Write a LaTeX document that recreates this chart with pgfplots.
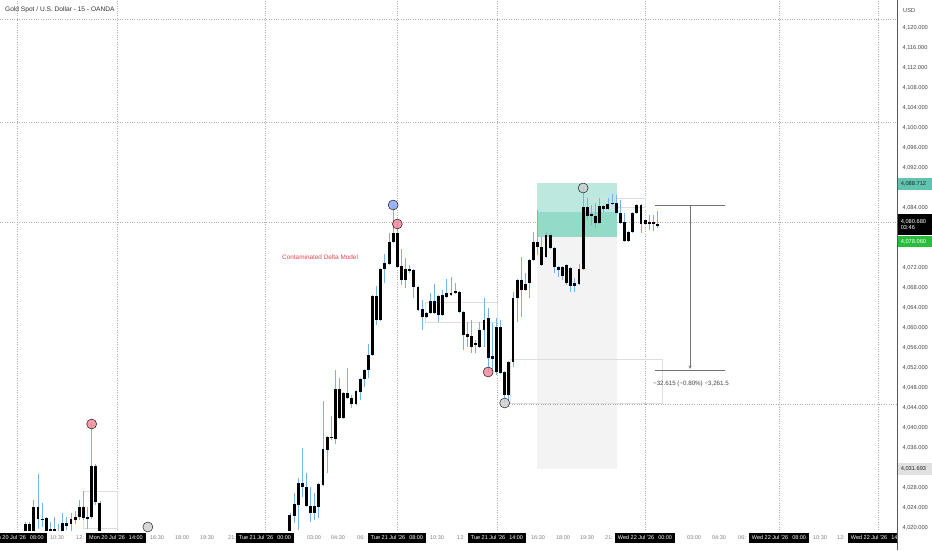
\documentclass[border=0pt]{standalone}
\usepackage{fontspec}
\setmainfont{Liberation Sans}
\usepackage{pgfplots}
\pgfplotsset{compat=1.18}
\usepackage{pgfplotstable}
\usetikzlibrary{arrows.meta}

\definecolor{wick}{RGB}{115,178,235}
\definecolor{gridc}{RGB}{175,175,175}
\definecolor{txt}{RGB}{70,70,70}
\definecolor{tealA}{RGB}{188,232,224}
\definecolor{tealB}{RGB}{148,218,200}
\definecolor{stopz}{RGB}{243,243,243}
\definecolor{boxl}{RGB}{222,222,222}
\definecolor{dotred}{RGB}{240,130,150}
\definecolor{dotblue}{RGB}{135,160,250}
\definecolor{dotgrey}{RGB}{205,205,205}
\definecolor{lbteal}{RGB}{96,196,176}
\definecolor{lbgreen}{RGB}{40,190,60}
\definecolor{lbgrey}{RGB}{225,225,225}
\definecolor{redtxt}{RGB}{230,70,80}

% n = bar index (15 min), bt/bb = body top/bottom, h/l = high/low
\pgfplotstableread{
n bt bb h l
6 4020.9 4017.0 4021.2 4016.5
7 4020.9 4017.0 4021.2 4016.5
8 4024.2 4017.0 4025.6 4016.5
9 4024.2 4021.8 4030.8 4019.9
10 4021.9 4021.7 4025.1 4020.3
11 4022.0 4017.0 4022.2 4016.5
12 4019.8 4017.0 4021.3 4016.5
13 4019.8 4017.0 4022.3 4016.5
14 4019.5 4017.0 4020.9 4016.5
15 4021.0 4017.0 4023.1 4016.5
16 4021.0 4020.4 4022.3 4019.6
17 4021.9 4020.8 4023.0 4019.0
18 4022.3 4021.6 4023.4 4020.8
19 4024.2 4022.2 4025.7 4021.6
20 4024.3 4022.0 4027.5 4021.6
21 4022.2 4021.9 4024.3 4019.9
22 4032.5 4022.2 4040.8 4021.8
23 4032.5 4025.3 4032.8 4024.6
24 4025.1 4017.0 4025.4 4016.5
70 4022.6 4017.0 4023.0 4016.5
71 4024.8 4022.4 4027.0 4021.0
72 4029.0 4024.6 4030.0 4019.6
73 4029.0 4028.2 4036.0 4026.2
74 4028.2 4024.4 4031.0 4024.2
75 4024.4 4023.0 4028.2 4021.2
76 4024.4 4023.0 4027.0 4021.6
77 4028.8 4024.2 4029.0 4022.0
78 4035.8 4028.6 4045.4 4028.4
79 4038.2 4035.6 4038.4 4031.0
80 4038.2 4038.0 4042.4 4037.6
81 4047.8 4037.8 4051.6 4036.8
82 4047.8 4042.0 4050.0 4041.8
83 4047.0 4042.0 4047.2 4041.8
84 4047.0 4046.0 4052.0 4045.8
85 4046.0 4044.8 4046.6 4044.0
86 4047.4 4044.8 4047.6 4044.6
87 4049.8 4047.2 4050.0 4045.6
88 4051.6 4049.8 4051.8 4048.2
89 4054.6 4051.6 4056.8 4050.0
90 4066.4 4054.6 4066.6 4054.4
91 4066.4 4061.6 4068.4 4060.6
92 4071.8 4061.6 4072.0 4061.4
93 4073.0 4071.8 4074.8 4069.0
94 4077.2 4072.8 4079.0 4072.6
95 4079.0 4077.2 4084.6 4077.0
96 4079.0 4072.2 4080.8 4072.0
97 4072.4 4069.6 4075.8 4068.6
98 4071.8 4069.6 4074.0 4068.0
99 4071.8 4071.4 4072.6 4071.0
100 4071.6 4068.2 4071.8 4066.0
101 4068.2 4063.6 4068.4 4063.4
102 4063.8 4062.2 4065.6 4059.6
103 4063.0 4062.2 4063.2 4062.0
104 4065.4 4063.0 4067.0 4062.8
105 4065.4 4063.0 4068.8 4062.8
106 4066.4 4062.6 4066.6 4061.2
107 4066.6 4062.6 4067.6 4062.4
108 4067.0 4066.2 4069.8 4066.0
109 4067.0 4066.6 4070.2 4066.4
110 4067.4 4067.0 4069.0 4066.8
111 4067.2 4063.2 4067.4 4063.0
112 4063.2 4058.6 4063.4 4055.6
113 4058.8 4058.2 4061.2 4056.2
114 4058.4 4056.2 4061.6 4055.0
115 4057.0 4056.6 4057.6 4055.0
116 4059.6 4056.2 4061.2 4056.0
117 4061.6 4059.6 4066.0 4056.2
118 4062.0 4054.0 4064.0 4051.2
119 4054.4 4053.8 4061.0 4051.6
120 4060.2 4051.2 4062.0 4050.6
121 4060.2 4051.0 4061.6 4050.8
122 4051.2 4046.6 4051.4 4045.0
123 4053.2 4046.6 4053.4 4045.2
124 4066.0 4053.2 4067.2 4052.2
125 4069.6 4066.0 4069.8 4061.2
126 4069.6 4067.6 4074.2 4062.2
127 4068.8 4067.6 4071.0 4067.4
128 4073.6 4069.0 4073.8 4066.0
129 4077.2 4073.6 4079.2 4073.4
130 4077.2 4076.2 4083.6 4074.6
131 4076.2 4072.6 4078.2 4072.4
132 4078.6 4074.2 4079.2 4074.0
133 4078.6 4076.0 4079.0 4075.8
134 4076.0 4072.2 4076.2 4071.0
135 4072.2 4071.6 4072.4 4070.2
136 4072.2 4070.4 4072.4 4069.6
137 4072.6 4069.0 4072.8 4068.6
138 4072.0 4068.4 4072.2 4067.2
139 4069.0 4068.4 4070.0 4067.2
140 4071.8 4068.8 4072.8 4068.6
141 4084.2 4071.8 4088.0 4071.6
142 4084.2 4082.4 4086.0 4081.6
143 4082.8 4082.4 4084.6 4080.6
144 4082.4 4081.0 4085.0 4080.0
145 4084.4 4081.0 4086.0 4080.8
146 4084.4 4083.8 4084.6 4083.2
147 4084.8 4083.8 4086.0 4083.6
148 4085.0 4084.8 4086.8 4084.6
149 4085.0 4083.0 4086.6 4082.8
150 4083.0 4081.0 4085.6 4080.8
151 4081.2 4077.4 4083.0 4077.2
152 4079.2 4077.4 4079.4 4077.2
153 4083.0 4079.2 4083.2 4079.0
154 4084.6 4083.0 4084.8 4082.8
155 4084.6 4080.8 4084.8 4079.0
156 4081.6 4080.8 4081.8 4080.6
157 4081.2 4080.8 4082.6 4079.6
158 4081.2 4080.8 4082.6 4079.4
159 4080.8 4080.4 4083.4 4080.0
}\candles

\begin{document}
\begin{tikzpicture}[x=1pt,y=1pt]
\useasboundingbox (0,0) rectangle (932,550);
\fill[white] (0,0) rectangle (932,550);
\begin{axis}[
  at={(0pt,20pt)}, anchor=south west, scale only axis,
  width=897pt, height=530pt,
  xmin=-0.2, xmax=216.99, ymin=4019.6, ymax=4125.6,
  axis y line*=right, axis x line*=bottom,
  x axis line style={draw=none},
  y axis line style={draw=black!65, line width=0.6pt, -},
  major tick length=0pt,
  ytick={4020,4024,4028,4036,4040,4044,4048,4052,4056,4060,4064,4068,4072,4084,4092,4096,4100,4104,4108,4112,4116,4120},
  yticklabel style={font=\fontsize{5.7}{6}\selectfont, text=txt, anchor=west, xshift=2pt,
    /pgf/number format/.cd, fixed, fixed zerofill, precision=3, 1000 sep={,}, assume math mode=true},
  xtick={3.92,28.13,63.96,95.93,120.14,155.97,188.42,212.39}, xticklabels={},
  xmajorgrids,
  grid style={gridc, line width=0.5pt, dash pattern=on 1pt off 1.4pt},
  extra y ticks={4081.2,4101.2,4121.8}, extra y tick labels={},
  extra y tick style={grid=major},
]
% position tool zones
\addplot[fill=stopz, draw=none] coordinates {(129.9,4078.2)(149.1,4078.2)(149.1,4031.8)(129.9,4031.8)} -- cycle;
\addplot[fill=tealA, draw=none] coordinates {(129.9,4089.0)(149.1,4089.0)(149.1,4083.2)(129.9,4083.2)} -- cycle;
\addplot[fill=tealB, draw=none] coordinates {(129.9,4083.2)(149.1,4083.2)(149.1,4078.2)(129.9,4078.2)} -- cycle;
% faint boxes
\addplot[boxl, line width=0.6pt] coordinates {(102.7,4065.2)(120.1,4065.2)(120.1,4061.2)(102.7,4061.2)} -- cycle;
\addplot[boxl, line width=0.6pt] coordinates {(19.9,4027.4)(28.1,4027.4)(28.1,4020.0)(19.9,4020.0)} -- cycle;
\addplot[boxl, line width=0.6pt] coordinates {(141,4086.0)(156,4086.0)(156,4084.2)(141,4084.2)} -- cycle;
\addplot[boxl, line width=0.6pt] coordinates {(123.3,4053.8)(160.1,4053.8)(160.1,4045.0)(123.3,4045.0)} -- cycle;
% ray from the low
\addplot[gridc, line width=0.5pt, dash pattern=on 1pt off 1.4pt] coordinates {(122,4044.8)(216.99,4044.8)};
% wicks
\addplot[draw=none, mark=none, forget plot,
  error bars/.cd, y dir=plus, y explicit, error mark=none,
  error bar style={draw=wick, line width=0.85pt, solid}]
  table[x=n, y=l, y error expr=\thisrow{h}-\thisrow{l}] {\candles};
% bodies
\addplot[draw=none, mark=none, forget plot,
  error bars/.cd, y dir=plus, y explicit, error mark=none,
  error bar style={draw=black, line width=2.9pt, solid}]
  table[x=n, y=bb, y error expr=\thisrow{bt}-\thisrow{bb}] {\candles};
% measure tool
\addplot[black!55, line width=0.6pt] coordinates {(158.4,4084.6)(175.3,4084.6)};
\addplot[black!55, line width=0.6pt] coordinates {(158.4,4051.6)(175.3,4051.6)};
\addplot[black!55, line width=0.6pt, -{Stealth[length=3.5pt,width=3pt]}] coordinates {(166.9,4084.6)(166.9,4051.8)};
% markers
\addplot[only marks, mark=*, mark size=5pt, mark options={draw=none, fill=dotred, fill opacity=0.8}] coordinates {(22,4040.8)(96,4080.8)(118,4051.2)};
\addplot[only marks, mark=*, mark size=5pt, mark options={draw=none, fill=dotblue, fill opacity=0.8}] coordinates {(95,4084.6)};
\addplot[only marks, mark=*, mark size=5pt, mark options={draw=none, fill=dotgrey, fill opacity=0.8}] coordinates {(122,4045.0)(141,4088.0)(35.6,4020.2)};
\node[font=\fontsize{6.4}{7}\selectfont, text=redtxt] at (axis cs:77.3,4074.2) {Contaminated Delta Model};
\node[font=\fontsize{6.2}{7}\selectfont, text=txt, anchor=west, inner sep=0pt] at (axis cs:157.9,4048.8) {−32.615 (−0.80\%) −3,261.5};
\end{axis}
% title
\node[anchor=west, font=\fontsize{6.6}{7}\selectfont, text=black!80, inner sep=0pt] at (5,540) {Gold Spot / U.S. Dollar - 15 - OANDA};
\node[anchor=west, font=\fontsize{5.7}{6}\selectfont, text=txt, inner sep=0pt] at (903,539) {USD};
% time axis
\foreach \x/\t in {57/10:30,157/16:30,182/18:00,207/19:30,314/03:00,338/04:30,437/10:30,538/16:30,563/18:00,587/19:30,694/03:00,719/04:30,820/10:30}
  \node[font=\fontsize{5.5}{6}\selectfont, text=black!50] at (\x,12) {\t};
\foreach \x/\t in {76/12:,228/21:,357/06:,457/12:,605/21:,738/06:,837/12:}
  \node[font=\fontsize{5.5}{6}\selectfont, text=black!50, anchor=west, inner xsep=0pt] at (\x,12) {\t};
\foreach \x/\d/\t in {17/Mon 20 Jul '26/08:00,116/Mon 20 Jul '26/14:00,265/Tue 21 Jul '26/00:00,397/Tue 21 Jul '26/08:00,497/Tue 21 Jul '26/14:00,645/Wed 22 Jul '26/00:00,779/Wed 22 Jul '26/08:00,878/Wed 22 Jul '26/14:00}
  \node[fill=black, text=white, font=\fontsize{5.5}{6}\selectfont, inner xsep=3pt, inner ysep=2.6pt] at (\x,12) {\d\hspace{4pt}\t};
\fill[white] (897.3,0) rectangle (932,20);
\draw[black!65, line width=0.6pt] (897,0) -- (897,20);
% price labels
\node[fill=lbteal, text=black!85, font=\fontsize{5.7}{6}\selectfont, anchor=west, minimum width=34pt, minimum height=11pt, inner xsep=3pt, align=left, text width=28pt] at (897.6,366) {4,088.712};
\node[fill=black, text=white, font=\fontsize{5.7}{6.6}\selectfont, anchor=west, minimum width=34pt, minimum height=21pt, inner xsep=3pt, align=left, text width=28pt] at (897.6,325.5) {4,080.680\\03:46};
\node[fill=lbgreen, text=white, font=\fontsize{5.7}{6}\selectfont, anchor=west, minimum width=34pt, minimum height=11pt, inner xsep=3pt, align=left, text width=28pt] at (897.6,308.5) {4,078.060};
\node[fill=lbgrey, text=black!85, font=\fontsize{5.7}{6}\selectfont, anchor=west, minimum width=34pt, minimum height=11pt, inner xsep=3pt, align=left, text width=28pt] at (897.6,81) {4,031.693};
\end{tikzpicture}
\end{document}
